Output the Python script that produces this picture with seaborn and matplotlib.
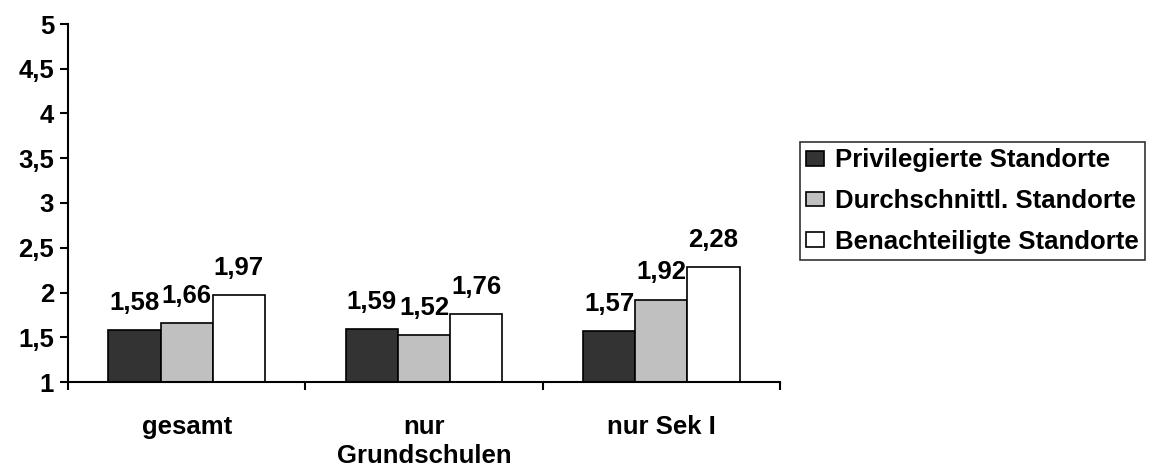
import numpy as np
import pandas as pd
import matplotlib
matplotlib.use('Agg')
import matplotlib.pyplot as plt
import seaborn as sns

categories = ['gesamt', 'nur\nGrundschulen', 'nur Sek I']
series_names = ['Privilegierte Standorte', 'Durchschnittl. Standorte', 'Benachteiligte Standorte']
privilegiert = [1.58, 1.59, 1.57]
durchschnitt = [1.66, 1.52, 1.92]
benachteiligt = [1.97, 1.76, 2.28]
y_ticks = [1, 1.5, 2, 2.5, 3, 3.5, 4, 4.5, 5]
colors = ['#333333', '#C0C0C0', '#FFFFFF']

sns.set_style('white')
plt.rcParams['font.family'] = ['Liberation Sans', 'DejaVu Sans']
plt.rcParams['font.weight'] = 'bold'
plt.rcParams['text.color'] = 'black'
plt.rcParams['xtick.color'] = 'black'
plt.rcParams['ytick.color'] = 'black'

FS = 18.5

df = pd.DataFrame({
    'Kategorie': categories * 3,
    'Gruppe': [s for s in series_names for _ in categories],
    'Wert': privilegiert + durchschnitt + benachteiligt,
})

fig = plt.figure(figsize=(11.56, 4.69), dpi=100)
ax = fig.add_axes([68 / 1156, 1 - 382 / 469, 712 / 1156, 358 / 469])

sns.barplot(data=df, x='Kategorie', y='Wert', hue='Gruppe', order=categories,
            hue_order=series_names, palette=colors, width=0.66, dodge=True,
            edgecolor='black', linewidth=1.2, saturation=1, ax=ax)

for cont in ax.containers:
    ax.bar_label(cont, labels=[f'{b.get_height():.2f}'.replace('.', ',') for b in cont],
                 padding=11, fontsize=FS, fontweight='bold', color='black')

ax.set_ylim(1, 5)
ax.set_yticks(y_ticks)
ax.set_yticklabels([f'{t:g}'.replace('.', ',') for t in y_ticks], fontsize=FS, fontweight='bold')
ax.set_xlim(-0.5, 2.5)
ax.set_xticks(range(len(categories)))
ax.set_xticklabels(categories, fontsize=FS, fontweight='bold', linespacing=1.25)
ax.set_xticks([-0.5, 0.5, 1.5, 2.5], minor=True)
ax.tick_params(axis='x', which='major', length=0, pad=24)
ax.tick_params(axis='x', which='minor', length=6, width=1.5, direction='out', bottom=True)
ax.tick_params(axis='y', length=6, width=1.5, direction='out', left=True, pad=4)
ax.set_xlabel('')
ax.set_ylabel('')

for side in ['top', 'right']:
    ax.spines[side].set_visible(False)
for side in ['left', 'bottom']:
    ax.spines[side].set_linewidth(1.5)
    ax.spines[side].set_color('black')

handles, labels = ax.get_legend_handles_labels()
ax.legend(handles, labels, loc='center left', bbox_to_anchor=(800 / 1156, 1 - 201 / 469),
          bbox_transform=fig.transFigure, frameon=True, fancybox=False, edgecolor='black',
          fontsize=FS, handlelength=0.7, handleheight=0.5, handletextpad=0.4,
          borderpad=0.25, labelspacing=0.65, borderaxespad=0)
ax.get_legend().get_frame().set_linewidth(1.2)

fig.savefig('out.png', dpi=100)
